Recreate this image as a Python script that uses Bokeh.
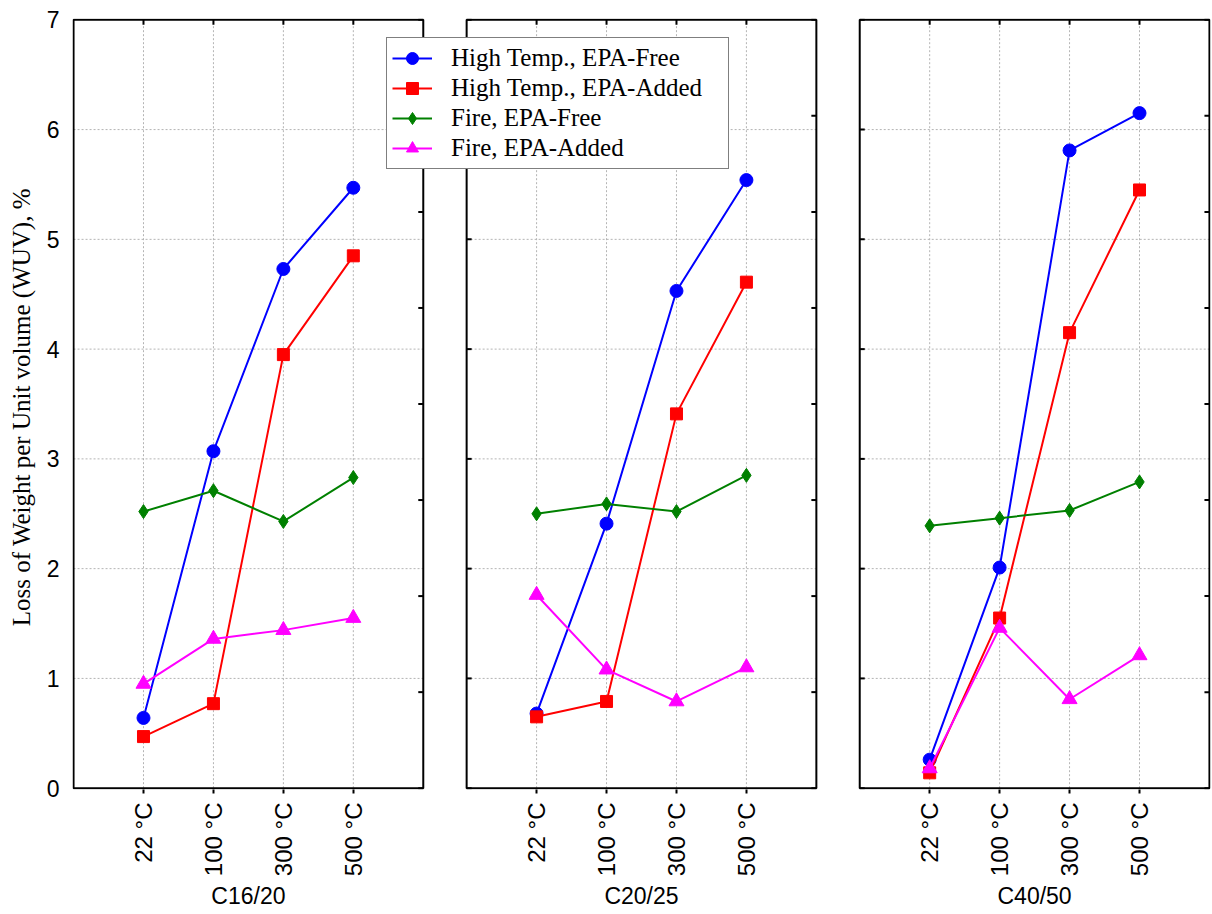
import math
from bokeh.plotting import figure
from bokeh.models import FixedTicker, LinearAxis, Range1d
from bokeh.embed import file_html
from bokeh.resources import INLINE

# ---------------- data ----------------
temps = ["22 °C", "100 °C", "300 °C", "500 °C"]
grades = ["C16/20", "C20/25", "C40/50"]
series_names = ["High Temp., EPA-Free", "High Temp., EPA-Added",
                "Fire, EPA-Free", "Fire, EPA-Added"]

ht_free_c1620 = [0.64, 3.07, 4.73, 5.47]
ht_added_c1620 = [0.47, 0.77, 3.95, 4.85]
fire_free_c1620 = [2.52, 2.71, 2.43, 2.83]
fire_added_c1620 = [0.95, 1.36, 1.44, 1.55]

ht_free_c2025 = [0.68, 2.41, 4.53, 5.54]
ht_added_c2025 = [0.65, 0.79, 3.41, 4.61]
fire_free_c2025 = [2.50, 2.59, 2.52, 2.85]
fire_added_c2025 = [1.76, 1.08, 0.79, 1.10]

ht_free_c4050 = [0.26, 2.01, 5.81, 6.15]
ht_added_c4050 = [0.14, 1.55, 4.15, 5.45]
fire_free_c4050 = [2.39, 2.46, 2.53, 2.79]
fire_added_c4050 = [0.18, 1.46, 0.81, 1.21]

y_ticks = [0, 1, 2, 3, 4, 5, 6, 7]
right_ticks = [0, 0.875, 1.75, 2.625, 3.5, 4.375, 5.25, 6.125, 7]
y_max = 7

panel_data = [
    [ht_free_c1620, ht_added_c1620, fire_free_c1620, fire_added_c1620],
    [ht_free_c2025, ht_added_c2025, fire_free_c2025, fire_added_c2025],
    [ht_free_c4050, ht_added_c4050, fire_free_c4050, fire_added_c4050],
]

# ---------------- style / layout ----------------
colors = ["#0000ff", "#ff0000", "#008000", "#ff00ff"]
markers = ["circle", "square", "diamond", "triangle"]
msizes = [13, 12, 14, 15]
SANS = "Liberation Sans"
SERIF = "Liberation Serif"

slots = len(temps) + 1          # panel width in category slots
gap = 0.62                      # gap between panels (slot units)
offsets = [k * (slots + gap) for k in range(len(grades))]
x_pos = list(range(1, len(temps) + 1))
pad_x, pad_y = 0.015, 0.012

tick_pos = [off + x for off in offsets for x in x_pos]
tick_labels = {t: temps[i % len(temps)] for i, t in enumerate(tick_pos)}
group_pos = [off + slots / 2 for off in offsets]
group_labels = {g: name for g, name in zip(group_pos, grades)}

x_end = offsets[-1] + slots
p = figure(width=1211, height=913,
           x_range=Range1d(-pad_x, x_end + pad_x),
           y_range=Range1d(-pad_y, y_max + pad_y),
           output_backend="svg", toolbar_location=None,
           min_border_left=72, min_border_right=1,
           min_border_top=18, min_border_bottom=124)
p.outline_line_color = None
p.background_fill_color = "white"
p.grid.visible = False

# left axis (labels only)
ya = p.yaxis[0]
ya.ticker = FixedTicker(ticks=y_ticks)
ya.major_tick_in = 0
ya.major_tick_out = 0
ya.minor_tick_line_color = None
ya.axis_line_color = None
ya.major_label_text_font = SANS
ya.major_label_text_font_size = "23px"
ya.major_label_text_color = "black"
ya.major_label_standoff = 13
ya.axis_label = "Loss of  Weight per Unit volume (WUV), %"
ya.axis_label_text_font = SERIF
ya.axis_label_text_font_size = "25px"
ya.axis_label_text_font_style = "normal"
ya.axis_label_text_color = "black"
ya.axis_label_standoff = 9

# bottom axis: temperature labels
xa = p.xaxis[0]
xa.ticker = FixedTicker(ticks=tick_pos)
xa.major_label_overrides = tick_labels
xa.major_label_orientation = math.pi / 2
xa.major_label_text_font = SANS
xa.major_label_text_font_size = "24px"
xa.major_label_text_color = "black"
xa.major_label_standoff = 9
xa.major_tick_in = 0
xa.major_tick_out = 4
xa.major_tick_line_width = 2
xa.minor_tick_line_color = None
xa.axis_line_color = None

# second bottom axis: concrete grade labels
ga = LinearAxis(ticker=FixedTicker(ticks=group_pos), major_label_overrides=group_labels,
                major_tick_in=0, major_tick_out=0, minor_tick_line_color=None,
                axis_line_color=None, major_label_text_font=SANS,
                major_label_text_font_size="23px", major_label_text_color="black",
                major_label_standoff=3)
p.add_layout(ga, "below")

grid_kw = dict(line_color="#b4b4b4", line_dash="2 2", line_width=1)
tick_kw = dict(length=5, length_units="screen", line_color="black", line_width=2)

for k, off in enumerate(offsets):
    x0, x1 = off, off + slots
    # grid lines
    inner_y = y_ticks[1:-1]
    p.segment(x0=[x0] * len(inner_y), y0=inner_y, x1=[x1] * len(inner_y), y1=inner_y, **grid_kw)
    xs = [off + x for x in x_pos]
    p.segment(x0=xs, y0=[0] * len(xs), x1=xs, y1=[y_max] * len(xs), **grid_kw)
    # ticks inside the frame
    p.ray(x=xs, y=[y_max] * len(xs), angle=-math.pi / 2, **tick_kw)
    p.ray(x=[x1] * len(right_ticks), y=right_ticks, angle=math.pi, **tick_kw)
    if k > 0:
        p.ray(x=[x0] * len(y_ticks), y=y_ticks, angle=0, **tick_kw)
    # panel box
    p.quad(left=[x0], right=[x1], bottom=[0], top=[y_max], fill_color=None,
           line_color="black", line_width=2)

for k, off in enumerate(offsets):
    xs = [off + x for x in x_pos]
    for vals, name, c, m, s in zip(panel_data[k], series_names, colors, markers, msizes):
        if k == 0:
            p.line(xs, vals, line_color=c, line_width=2, legend_label=name)
            p.scatter(xs, vals, marker=m, size=s, fill_color=c, line_color=c,
                      legend_label=name)
        else:
            p.line(xs, vals, line_color=c, line_width=2)
            p.scatter(xs, vals, marker=m, size=s, fill_color=c, line_color=c)

lg = p.legend[0]
lg.location = (314, 620)
lg.label_text_font = SERIF
lg.label_text_font_size = "25px"
lg.label_text_color = "black"
lg.glyph_width = 40
lg.glyph_height = 30
lg.label_height = 30
lg.label_width = 272
lg.label_standoff = 19
lg.padding = 5
lg.spacing = 0
lg.margin = 0
lg.border_line_color = "black"
lg.border_line_width = 1.5
lg.background_fill_color = "white"
lg.background_fill_alpha = 1

open("out.html", "w").write(file_html(p, INLINE))
